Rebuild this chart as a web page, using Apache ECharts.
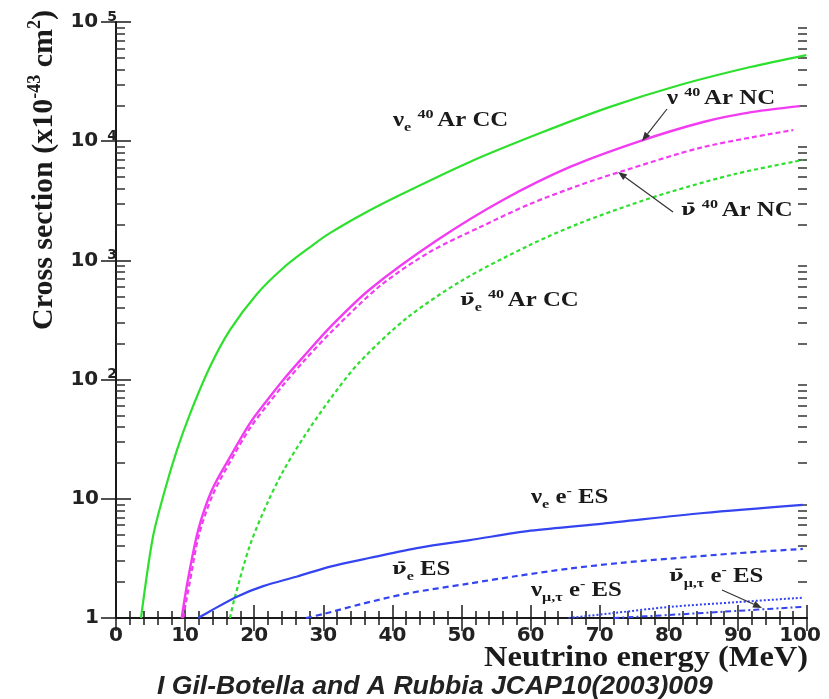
<!DOCTYPE html>
<html><head><meta charset="utf-8">
<script src="https://cdn.jsdelivr.net/npm/echarts@6/dist/echarts.min.js"></script>
<style>html,body{margin:0;padding:0;background:#fff}#c{width:829px;height:699px}</style>
</head><body><div id="c"></div>
<script>
// ---------------- data ----------------
const xTicks = [0, 10, 20, 30, 40, 50, 60, 70, 80, 90, 100];
const yDecades = [1, 10, 100, 1000, 10000, 100000];
const yMinorTicks = [2,3,4,5,6,7,8,9, 20,30,40,50,60,70,80,90, 200,300,400,500,600,700,800,900,
  2000,3000,4000,5000,6000,7000,8000,9000, 20000,30000,40000,50000,60000,70000,80000,90000];

// nu_e 40Ar CC (green solid)
const nueArCC_E = [3.62, 5.35, 7.09, 8.83, 10.7, 13.6, 16.5, 20.4, 24.2, 28.1, 31.0, 36.0, 41.1, 51.2, 61.4, 71.5, 81.6, 91.8, 99.9];
const nueArCC_V = [1, 4.8, 11.9, 25.7, 51.4, 128, 261, 523, 864, 1295, 1700, 2500, 3540, 6700, 11700, 19400, 29600, 41900, 52800];
// nu 40Ar NC (magenta solid)
const nuArNC_E = [9.51, 10.4, 11.9, 13.9, 16.5, 19.4, 21.9, 24.2, 27.1, 31.0, 36.8, 46.5, 56.0, 65.7, 75.4, 85.0, 92.2, 99.0];
const nuArNC_V = [1, 2.08, 5.47, 11.9, 22.4, 43.2, 67.4, 99.3, 155, 276, 576, 1480, 3210, 6080, 9840, 14500, 17600, 19700];
// anti-nu 40Ar NC (magenta dashed)
const anuArNC_E = [9.7, 10.6, 12.0, 14.0, 16.5, 19.4, 21.9, 24.2, 27.1, 31.0, 38.2, 45.4, 52.7, 59.9, 67.2, 72.9, 85.0, 98.0];
const anuArNC_V = [1, 1.89, 4.97, 10.8, 20.4, 39.3, 61.2, 90.1, 141, 246, 610, 1175, 1905, 2970, 4300, 5520, 8930, 12400];
// anti-nu_e 40Ar CC (green dashed)
const anueArCC_E = [16.5, 17.1, 19.4, 21.9, 24.2, 27.1, 31.0, 35.3, 42.1, 50.2, 59.9, 67.2, 74.4, 80.2, 89.6, 99.4];
const anueArCC_V = [1, 1.42, 4.10, 9.2, 17.1, 32.4, 68.8, 141, 329, 685, 1346, 2060, 2920, 3750, 5310, 6950];
// nu_e e- ES (blue solid)
const nueES_E = [11.9, 13.6, 17.5, 21.3, 26.1, 31.0, 36.8, 44, 51.2, 60, 70.5, 85, 99.4];
const nueES_V = [1.0, 1.14, 1.51, 1.85, 2.22, 2.7, 3.2, 3.9, 4.5, 5.4, 6.2, 7.6, 8.9];
// anti-nu_e ES (blue dashed)
const anueES_E = [27.5, 30, 35.3, 42, 51.2, 58, 65.7, 73, 80.2, 90, 99.4];
const anueES_V = [1.0, 1.08, 1.3, 1.6, 1.95, 2.25, 2.6, 2.9, 3.15, 3.5, 3.8];
// nu_mu,tau e- ES (blue dotted)
const numtES_E = [65.5, 72, 80.2, 90, 99.4];
const numtES_V = [1.0, 1.1, 1.24, 1.36, 1.48];
// anti-nu_mu,tau e- ES (blue dash-dot)
const anumtES_E = [72, 80, 88, 99.4];
const anumtES_V = [1.0, 1.06, 1.13, 1.24];

// ---------------- styling ----------------
const SERIF = '"Liberation Serif", "Times New Roman", serif';
const SANS = '"DejaVu Sans", sans-serif';
const GREEN = '#2ee02e', MAGENTA = '#f23cf2', BLUE = '#3344f0';
const INK = '#1a1a1a';

function zip(xs, ys) { return xs.map((x, i) => [x, ys[i]]); }
function lineSeries(xs, ys, color, type, width) {
  return {
    type: 'line', data: zip(xs, ys), showSymbol: false, symbol: 'none',
    smooth: 0.3, silent: true, z: 3,
    lineStyle: { color: color, width: width || 2, type: type }
  };
}

const annRich = {
  b:  { fontSize: 20, fontWeight: 'bold', fontFamily: SERIF, fill: INK, lineHeight: 26 },
  nb: { fontSize: 17, fontWeight: 'bold', fontFamily: '"DejaVu Serif", serif', fill: INK, lineHeight: 26 },
  sp: { fontSize: 13, fontWeight: 'bold', fontFamily: SERIF, fill: INK, verticalAlign: 'top', lineHeight: 10, padding: [0, 3, 0, 0] },
  sm: { fontSize: 13, fontWeight: 'bold', fontFamily: SERIF, fill: INK, verticalAlign: 'top', lineHeight: 10 },
  sb: { fontSize: 13, fontWeight: 'bold', fontFamily: SERIF, fill: INK, verticalAlign: 'bottom', lineHeight: 5 }
};
// x: left edge, base: text baseline (pixels)
function ann(x, base, text) {
  return { type: 'text', x: x, y: base - 20, scaleX: 1.24, z: 10, silent: true,
    style: { text: text, rich: annRich, font: 'bold 20px ' + SERIF, fill: INK, align: 'left', verticalAlign: 'top' } };
}
function arrow(x1, y1, x2, y2) {
  const a = Math.atan2(y2 - y1, x2 - x1), L = 9, w = 3.5;
  const bx = x2 - L * Math.cos(a), by = y2 - L * Math.sin(a);
  return [
    { type: 'line', z: 10, silent: true, shape: { x1: x1, y1: y1, x2: bx, y2: by }, style: { stroke: '#333', lineWidth: 1.2 } },
    { type: 'polygon', z: 10, silent: true, shape: { points: [[x2, y2], [bx + w * Math.sin(a), by - w * Math.cos(a)], [bx - w * Math.sin(a), by + w * Math.cos(a)]] }, style: { fill: '#333' } }
  ];
}

const NUBAR = '{nb|ν\u0304}';
const graphics = [
  ann(393, 128, '{b|ν}{sb|e}{b| }{sp|40}{b|Ar CC}'),
  ann(667, 106, '{b|ν }{sp|40}{b|Ar NC}'),
  ann(681, 218, NUBAR + '{b| }{sp|40}{b|Ar NC}'),
  ann(460, 308, NUBAR + '{sb|e}{b| }{sp|40}{b|Ar CC}'),
  ann(531, 505, '{b|ν}{sb|e}{b| e}{sm|-}{b| ES}'),
  ann(392, 577, NUBAR + '{sb|e}{b| ES}'),
  ann(531, 598, '{b|ν}{sb|μ,τ}{b| e}{sm|-}{b| ES}'),
  ann(669, 584, NUBAR + '{sb|μ,τ}{b| e}{sm|-}{b| ES}'),
  ...arrow(667, 109, 642, 141),
  ...arrow(673, 212, 618, 172),
  ...arrow(722, 590, 762, 608),
  { type: 'text', x: 808, y: 658, scaleX: 1.08, silent: true,
    style: { text: 'Neutrino energy (MeV)', font: 'bold 30px ' + SERIF, fill: INK, align: 'right', verticalAlign: 'middle' } },
  { type: 'text', x: 44, y: 170, rotation: Math.PI / 2, silent: true,
    style: { text: '{t|Cross section (x10}{s|-43}{t| cm}{s|2}{t|)}', align: 'center', verticalAlign: 'middle',
      font: 'bold 30px ' + SERIF, fill: INK,
      rich: { t: { fontSize: 30, fontWeight: 'bold', fontFamily: SERIF, fill: INK, lineHeight: 36 },
              s: { fontSize: 18, fontWeight: 'bold', fontFamily: SERIF, fill: INK, verticalAlign: 'top', lineHeight: 14 } } } },
  { type: 'text', x: 157, y: 673, silent: true,
    style: { text: 'I Gil-Botella and A Rubbia JCAP10(2003)009', font: 'italic bold 26.6px "Liberation Sans", Arial, sans-serif', fill: '#222', align: 'left', verticalAlign: 'top' } }
];

const axisLineStyle = { show: true, lineStyle: { color: INK, width: 2 } };
const xLabelRich = {
  n: { fontFamily: SANS, fontWeight: 'bold', fontSize: 20, color: '#222', lineHeight: 20 },
  r: { fontFamily: SANS, fontWeight: 'bold', fontSize: 20, color: '#222', lineHeight: 20, padding: [0, 14, 0, 0] }
};
const option = {
  animation: false,
  backgroundColor: '#fff',
  grid: { left: 116, right: 22, top: 22, bottom: 81, containLabel: false, outerBoundsMode: 'none' },
  xAxis: [
    { type: 'value', min: 0, max: 100, interval: 10, position: 'bottom',
      axisLine: axisLineStyle, splitLine: { show: false },
      axisTick: { show: true, inside: true, length: 13, lineStyle: { color: INK, width: 1.5 } },
      minorTick: { show: true, splitNumber: 5, length: 7, lineStyle: { color: INK, width: 1.5 } },
      axisLabel: { show: true, margin: 8, customValues: xTicks, rich: xLabelRich, hideOverlap: false,
        formatter: v => (v === 100 ? '{r|' + v + '}' : '{n|' + v + '}') } },
    { type: 'value', min: 0, max: 100, interval: 10, position: 'top',
      axisLine: axisLineStyle, splitLine: { show: false },
      axisTick: { show: true, inside: true, length: 13, lineStyle: { color: INK, width: 1.5 } },
      minorTick: { show: true, splitNumber: 5, length: 7, lineStyle: { color: INK, width: 1.5 } },
      axisLabel: { show: false } }
  ],
  yAxis: [
    { type: 'log', logBase: 10, min: 1, max: 100000, position: 'left',
      axisLine: axisLineStyle, splitLine: { show: false },
      axisTick: { show: true, inside: true, length: 15, lineStyle: { color: INK, width: 1.5 } },
      axisLabel: { show: true, margin: -1,
        formatter: function (v) {
          const e = Math.round(Math.log10(v));
          if (e === 0) return '{bp|1}';
          if (e === 1) return '{bp|10}';
          return '{b|10}{s|' + e + '}';
        },
        rich: {
          b:  { fontFamily: SANS, fontWeight: 'bold', fontSize: 20, color: '#222', lineHeight: 24 },
          bp: { fontFamily: SANS, fontWeight: 'bold', fontSize: 20, color: '#222', lineHeight: 24, padding: [0, 18, 0, 0] },
          s:  { fontFamily: SANS, fontWeight: 'bold', fontSize: 14, color: '#222', lineHeight: 6, verticalAlign: 'top', padding: [0, 0, 0, 9] }
        } } },
    { type: 'log', logBase: 10, min: 1, max: 100000, position: 'right',
      axisLine: axisLineStyle, splitLine: { show: false },
      axisTick: { show: true, inside: true, length: 15, lineStyle: { color: INK, width: 1.5 } },
      axisLabel: { show: false } },
    { type: 'value', min: 0, max: 5, position: 'left',
      axisLine: { show: false }, splitLine: { show: false }, axisLabel: { show: false },
      axisTick: { show: true, inside: true, length: 9, customValues: yMinorTicks.map(v => Math.log10(v)), lineStyle: { color: '#333', width: 1.5 } } },
    { type: 'value', min: 0, max: 5, position: 'right',
      axisLine: { show: false }, splitLine: { show: false }, axisLabel: { show: false },
      axisTick: { show: true, inside: true, length: 9, customValues: yMinorTicks.map(v => Math.log10(v)), lineStyle: { color: '#333', width: 1.5 } } }
  ],
  series: [
    lineSeries(nueArCC_E, nueArCC_V, GREEN, 'solid', 2.2),
    lineSeries(nuArNC_E, nuArNC_V, MAGENTA, 'solid', 2.4),
    lineSeries(anuArNC_E, anuArNC_V, MAGENTA, [5, 3], 2.2),
    lineSeries(anueArCC_E, anueArCC_V, GREEN, [4, 3], 2.2),
    lineSeries(nueES_E, nueES_V, BLUE, 'solid', 2.2),
    lineSeries(anueES_E, anueES_V, BLUE, [6, 4], 2.2),
    lineSeries(numtES_E, numtES_V, BLUE, [2, 2], 2),
    lineSeries(anumtES_E, anumtES_V, BLUE, [6, 3, 2, 3], 2)
  ],
  graphic: graphics
};
const chart = echarts.init(document.getElementById('c'), null, { renderer: 'canvas' });
chart.setOption(option);
</script>
</body></html>
